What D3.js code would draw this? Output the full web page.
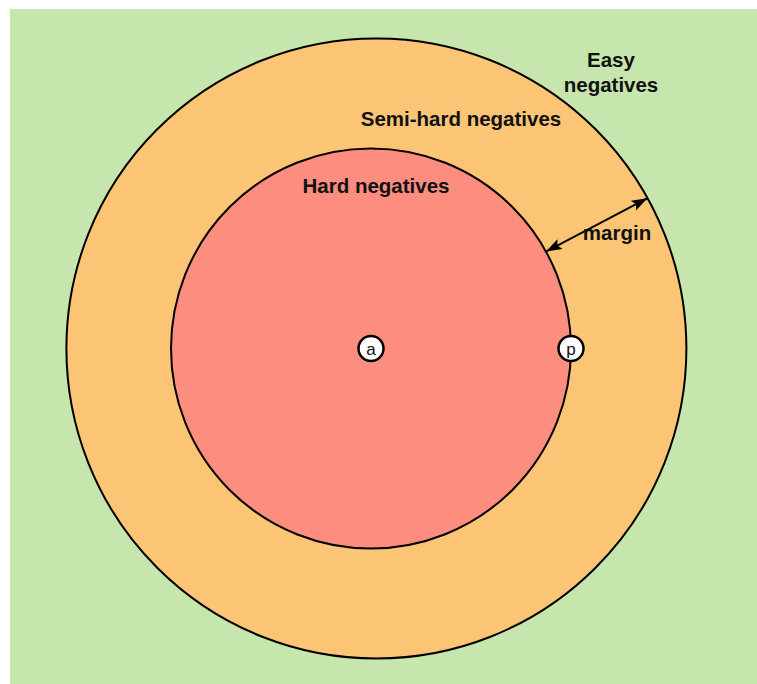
<!DOCTYPE html>
<html>
<head>
<meta charset="utf-8">
<script src="https://cdn.jsdelivr.net/npm/d3@7"></script>
<style>
  body { margin: 0; background: #fff; }
  text { font-family: "Liberation Sans", Arial, sans-serif; font-weight: bold; fill: #111; }
</style>
</head>
<body>
<div id="chart"></div>
<script>
// Ring names and radii (in units of the hard-negative radius)
var ringNames = ["Easy negatives", "Semi-hard negatives", "Hard negatives"];
var ringRadius = [null, 1.55, 1.0];
var ringColors = ["#c6e6ad", "#fcc575", "#fc8d7f"];
var ringCenterOffset = [0, 0.027, 0];   // outer ring sits a bit to the right
var points = ["a", "p"];
var pointDist = [0, 1.0];
var marginLabel = "margin";
var marginAngle = -29;   // degrees

var svgWidth = 757, svgHeight = 684;

var svg = d3.select("#chart").append("svg")
  .attr("width", svgWidth)
  .attr("height", svgHeight);

var cx = 371, cy = 348.5;
var r = d3.scaleLinear().domain([0, 1]).range([0, 200]);

// Background (easy negatives)
svg.append("rect")
  .attr("x", 10).attr("y", 9)
  .attr("width", svgWidth - 10).attr("height", svgHeight - 9)
  .attr("fill", ringColors[0]);

// Rings
[1, 2].forEach(function(i) {
  svg.append("circle")
    .attr("cx", cx + r(ringCenterOffset[i]))
    .attr("cy", cy)
    .attr("r", r(ringRadius[i]))
    .attr("fill", ringColors[i])
    .attr("stroke", "#000")
    .attr("stroke-width", 2);
});

// Labels
var fs = "20.5px";
svg.append("text").attr("x", 611).attr("y", 67).attr("text-anchor", "middle")
  .style("font-size", fs).text("Easy");
svg.append("text").attr("x", 611).attr("y", 92).attr("text-anchor", "middle")
  .style("font-size", fs).text("negatives");
svg.append("text").attr("x", 461).attr("y", 126).attr("text-anchor", "middle")
  .style("font-size", fs).text(ringNames[1]);
svg.append("text").attr("x", 376).attr("y", 193).attr("text-anchor", "middle")
  .style("font-size", fs).text(ringNames[2]);

// Margin arrow
var defs = svg.append("defs");
defs.append("marker")
  .attr("id", "head")
  .attr("viewBox", "0 0 10 10")
  .attr("refX", 10).attr("refY", 5)
  .attr("markerWidth", 8).attr("markerHeight", 8)
  .attr("markerUnits", "strokeWidth")
  .attr("orient", "auto-start-reverse")
  .append("path").attr("d", "M0,1.5 L10,5 L0,8.5 L2,5 Z").attr("fill", "#000");

var ang = marginAngle * Math.PI / 180;
var oc = cx + r(ringCenterOffset[1]);
svg.append("line")
  .attr("x1", cx + r(ringRadius[2]) * Math.cos(ang) - 0)
  .attr("y1", cy + r(ringRadius[2]) * Math.sin(ang))
  .attr("x2", oc + r(ringRadius[1]) * Math.cos(ang))
  .attr("y2", cy + r(ringRadius[1]) * Math.sin(ang))
  .attr("stroke", "#000")
  .attr("stroke-width", 2)
  .attr("marker-start", "url(#head)")
  .attr("marker-end", "url(#head)");

svg.append("text").attr("x", 617).attr("y", 240).attr("text-anchor", "middle")
  .style("font-size", fs).text(marginLabel);

// Anchor and positive points
points.forEach(function(p, i) {
  var g = svg.append("g").attr("transform", "translate(" + (cx + r(pointDist[i])) + "," + cy + ")");
  g.append("circle").attr("r", 12.5).attr("fill", "#fff").attr("stroke", "#000").attr("stroke-width", 2.5);
  g.append("text").attr("text-anchor", "middle").attr("dy", "0.36em")
    .style("font-size", "17px").style("font-weight", "normal").text(p);
});
</script>
</body>
</html>
